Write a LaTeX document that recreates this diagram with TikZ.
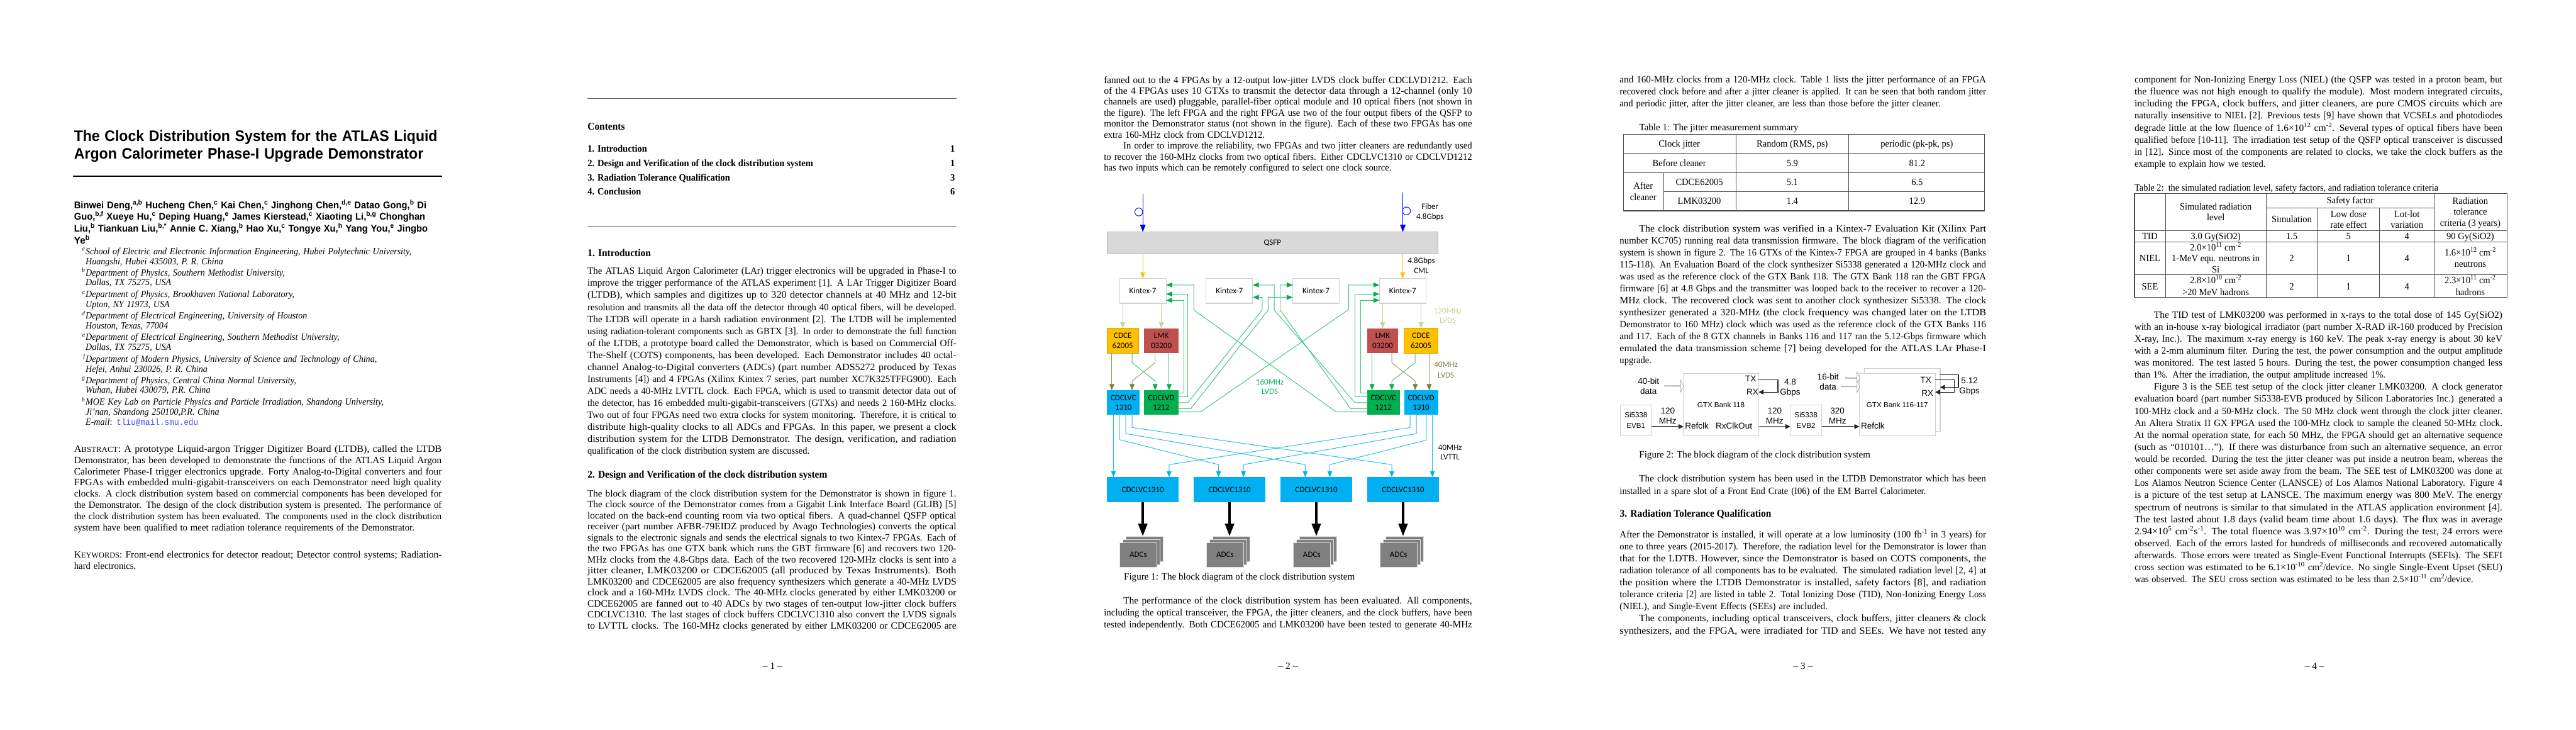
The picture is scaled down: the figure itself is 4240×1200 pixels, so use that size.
\documentclass[tikz,border=0pt]{standalone}
\usepackage{fontspec}
\usepackage{graphicx}
\setmainfont{Liberation Serif}
\newfontfamily\diagfont{Carlito}
\newfontfamily\sansfont{Liberation Sans}
\newfontfamily\mailfont{Liberation Mono}
\usetikzlibrary{arrows.meta,calc,positioning,shapes.arrows}
\definecolor{gbox}{HTML}{00B050}
\definecolor{bbox}{HTML}{00B0F0}
\definecolor{ybox}{HTML}{FFC000}
\definecolor{rbox}{HTML}{C0504D}
\definecolor{palegreen}{HTML}{C3D69B}
\definecolor{oliveline}{HTML}{76803F}
\definecolor{mailblue}{HTML}{4A4AF0}
% one printed line of a page
\newlength\indw
\newcommand{\lstrut}{\vrule height 11pt depth 4pt width 0pt}
\newcommand{\sx}[1]{\scalebox{.94}[1]{#1}}
\newcommand{\jl}[2][\hsize]{\noindent\resizebox{#1}{\height}{\lstrut#2}\par}
\newcommand{\ji}[1]{\noindent\hspace*{32pt}\setlength\indw{\hsize}\addtolength\indw{-32pt}\resizebox{\indw}{\height}{\lstrut#1}\par}
\newcommand{\nl}[1]{\noindent\sx{\lstrut#1}\par}
\newcommand{\sps}[1]{\textsuperscript{#1}}
\newcommand{\fsc}[1]{{\fontsize{12.8}{13}\selectfont #1}}
\tikzset{
  para/.style={anchor=north west,inner sep=0pt,outer sep=0pt,yshift=6.5pt,font=\fontsize{16}{#1}\selectfont},
  cell/.style={anchor=base,inner sep=0pt,yshift=-4.5pt,font=\fontsize{16}{18}\selectfont},
  sechead/.style={anchor=base west,inner sep=0pt,yshift=-4.5pt,font=\fontsize{17}{18}\selectfont\bfseries},
  rule/.style={draw=black!70,line width=1pt},
  blockb/.style={rectangle,inner sep=0pt,outer sep=0pt,align=center,minimum height=40.7pt,font=\diagfont\fontsize{13.5}{16}\selectfont},
  kbox/.style={blockb,draw=black!18,line width=1.2pt,fill=white,minimum width=76.6pt,minimum height=41pt},
  adcbox/.style={blockb,draw=black!12,fill=black!50,minimum width=61.6pt,minimum height=41pt},
  lbl/.style={inner sep=0pt,anchor=base,yshift=-4.5pt,font=\diagfont\fontsize{13.5}{16}\selectfont},
  hlbl/.style={inner sep=0pt,anchor=base,yshift=-4.5pt,font=\sansfont\fontsize{14}{16}\selectfont},
  wbox/.style={rectangle,draw=black!18,line width=1.2pt,fill=white,inner sep=0pt,outer sep=0pt,align=center,font=\sansfont\fontsize{12}{17}\selectfont},
  hollow/.style={single arrow,draw=black!35,fill=white,inner sep=0pt,outer sep=0pt,minimum height=31pt,minimum width=20pt,single arrow head extend=5pt,single arrow tip angle=130,line width=.7pt},
  gline/.style={draw=gbox!75!white,line width=1pt,-{Triangle[length=10pt,width=8pt,fill=gbox,color=gbox]}},
  bline/.style={draw=bbox!85!white,line width=1pt,-{Triangle[length=10pt,width=8pt,fill=bbox,color=bbox]}},
  oline/.style={draw=oliveline!80!white,line width=1pt,-{Triangle[length=10pt,width=8pt,fill=oliveline,color=oliveline]}},
  pline/.style={draw=palegreen,line width=1.2pt,-{Triangle[length=10pt,width=8pt]}},
  yline/.style={draw=ybox,line width=1.2pt,-{Triangle[length=10pt,width=8pt]}},
  fline/.style={draw=blue,line width=1.2pt,-{Triangle[length=12pt,width=9pt]}},
  bigline/.style={draw=black,line width=4.5pt,-{Triangle[length=21pt,width=14.5pt]}},
  blk/.style={draw=black!85,line width=1.2pt,-{Triangle[length=8pt,width=8pt]}},
}
\begin{document}
\begin{tikzpicture}[x=1pt,y=-1pt]
  \fill[white] (0,0) rectangle (4240,1200);
  \useasboundingbox (0,0) rectangle (4240,1200);

  % page 1, title page
  \node[para=28.5,text width=606pt,font=\sansfont\bfseries\fontsize{25}{28.5}\selectfont] (title) at (122,221) {%
    \jl[598pt]{The Clock Distribution System for the ATLAS Liquid}
    \jl[575pt]{Argon Calorimeter Phase-I Upgrade Demonstrator}};
  \draw[line width=2.4pt] (120,289.6) -- (728,289.6);
  \node[para=17.9,text width=606pt,font=\sansfont\bfseries\fontsize{16}{17.9}\selectfont] (authors) at (122,335) {%
    \jl[580pt]{Binwei Deng,\sps{a,b} Hucheng Chen,\sps{c} Kai Chen,\sps{c} Jinghong Chen,\sps{d,e} Datao Gong,\sps{b} Di}
    \jl[578pt]{Guo,\sps{b,f} Xueye Hu,\sps{c} Deping Huang,\sps{e} James Kierstead,\sps{c} Xiaoting Li,\sps{b,g} Chonghan}
    \jl[582pt]{Liu,\sps{b} Tiankuan Liu,\sps{b,*} Annie C. Xiang,\sps{b} Hao Xu,\sps{c} Tongye Xu,\sps{h} Yang You,\sps{e} Jingbo}
    \jl[26pt]{Ye\sps{b}}};
  \foreach \nm/\y/\sy/\la/\lb in {%
    a/414/a/{School of Electric and Electronic Information Engineering, Hubei Polytechnic University,}/{Huangshi, Hubei 435003, P. R. China},
    b/449/b/{Department of Physics, Southern Methodist University,}/{Dallas, TX 75275, USA},
    c/485/c/{Department of Physics, Brookhaven National Laboratory,}/{Upton, NY 11973, USA},
    d/520/d/{Department of Electrical Engineering, University of Houston}/{Houston, Texas, 77004},
    e/555/e/{Department of Electrical Engineering, Southern Methodist University,}/{Dallas, TX 75275, USA},
    f/591/f/{Department of Modern Physics, University of Science and Technology of China,}/{Hefei, Anhui 230026, P. R. China},
    g/626/g/{Department of Physics, Central China Normal University,}/{Wuhan, Hubei 430079, P.R. China},
    h/662/h/{MOE Key Lab on Particle Physics and Particle Irradiation, Shandong University,}/{Ji'nan, Shandong 250100,P.R. China}} {
    \node[para=16.4,text width=560pt,font=\itshape\fontsize{15.5}{16.4}\selectfont] (aff\nm) at (141,\y) {\nl{\la}\nl{\lb}};
    \node[anchor=base east,inner sep=0pt,font=\itshape\fontsize{10}{12}\selectfont] (mark\nm) at (140,\y-1) {\sy};
  }
  \node[para=16,text width=560pt,font=\fontsize{15.5}{16}\selectfont] (mail) at (141,695) {%
    \nl{\textit{E-mail}: {\mailfont\color{mailblue}\fontsize{14}{16}\selectfont tliu@mail.smu.edu}}};
  \node[para=18.5,text width=605pt] (abstract) at (122,739) {%
    \jl{A\fsc{BSTRACT}: A prototype Liquid-argon Trigger Digitizer Board (LTDB), called the LTDB}
    \jl{Demonstrator, has been developed to demonstrate the functions of the ATLAS Liquid Argon}
    \jl{Calorimeter Phase-I trigger electronics upgrade. Forty Analog-to-Digital converters and four}
    \jl{FPGAs with embedded multi-gigabit-transceivers on each Demonstrator need high quality}
    \jl{clocks. A clock distribution system based on commercial components has been developed for}
    \jl{the Demonstrator. The design of the clock distribution system is presented. The performance of}
    \jl{the clock distribution system has been evaluated. The components used in the clock distribution}
    \jl[560pt]{system have been qualified to meet radiation tolerance requirements of the Demonstrator.}};
  \node[para=18.9,text width=605pt] (keywords) at (122,912.5) {%
    \jl{K\fsc{EYWORDS}: Front-end electronics for detector readout; Detector control systems; Radiation-}
    \jl[102pt]{hard electronics.}};

  % contents and first sections
  \draw[draw=black!60,line width=1pt] (967,162) -- (1574,162);
  \draw[draw=black!60,line width=1.5pt] (967,372) -- (1574,372);
  \node[sechead] (conhead) at (967,209) {\sx{Contents}};
  \foreach \nm/\y/\txt/\pg in {a/245/{1. Introduction}/1,b/269/{2. Design and Verification of the clock distribution system}/1,c/292.7/{3. Radiation Tolerance Qualification}/3,d/316/{4. Conclusion}/6} {
    \node[sechead,font=\fontsize{16}{18}\selectfont\bfseries] (toc\nm) at (967,\y) {\sx{\txt}};
    \node[sechead,anchor=base east,font=\fontsize{16}{18}\selectfont\bfseries] (pg\nm) at (1572,\y) {\sx{\pg}};
  }
  \node[sechead] (secone) at (967,417) {\sx{1. Introduction}};
  \node[para=19.75,text width=607pt] (intro) at (967,446.5) {%
    \jl{The ATLAS Liquid Argon Calorimeter (LAr) trigger electronics will be upgraded in Phase-I to}
    \jl{improve the trigger performance of the ATLAS experiment [1]. A LAr Trigger Digitizer Board}
    \jl{(LTDB), which samples and digitizes up to 320 detector channels at 40 MHz and 12-bit}
    \jl{resolution and transmits all the data off the detector through 40 optical fibers, will be developed.}
    \jl{The LTDB will operate in a harsh radiation environment [2]. The LTDB will be implemented}
    \jl{using radiation-tolerant components such as GBTX [3]. In order to demonstrate the full function}
    \jl{of the LTDB, a prototype board called the Demonstrator, which is based on Commercial Off-}
    \jl{The-Shelf (COTS) components, has been developed. Each Demonstrator includes 40 octal-}
    \jl{channel Analog-to-Digital converters (ADCs) (part number ADS5272 produced by Texas}
    \jl{Instruments [4]) and 4 FPGAs (Xilinx Kintex 7 series, part number XC7K325TFFG900). Each}
    \jl{ADC needs a 40-MHz LVTTL clock. Each FPGA, which is used to transmit detector data out of}
    \jl{the detector, has 16 embedded multi-gigabit-transceivers (GTXs) and needs 2 160-MHz clocks.}
    \jl{Two out of four FPGAs need two extra clocks for system monitoring. Therefore, it is critical to}
    \jl{distribute high-quality clocks to all ADCs and FPGAs. In this paper, we present a clock}
    \jl{distribution system for the LTDB Demonstrator. The design, verification, and radiation}
    \nl{qualification of the clock distribution system are discussed.}};
  \node[sechead] (sectwo) at (967,782) {\sx{2. Design and Verification of the clock distribution system}};
  \node[para=18.15,text width=607pt] (design) at (967,812) {%
    \jl{The block diagram of the clock distribution system for the Demonstrator is shown in figure 1.}
    \jl{The clock source of the Demonstrator comes from a Gigabit Link Interface Board (GLIB) [5]}
    \jl{located on the back-end counting room via two optical fibers. A quad-channel QSFP optical}
    \jl{receiver (part number AFBR-79EIDZ produced by Avago Technologies) converts the optical}
    \jl{signals to the electronic signals and sends the electrical signals to two Kintex-7 FPGAs. Each of}
    \jl{the two FPGAs has one GTX bank which runs the GBT firmware [6] and recovers two 120-}
    \jl{MHz clocks from the 4.8-Gbps data. Each of the two recovered 120-MHz clocks is sent into a}
    \jl{jitter cleaner, LMK03200 or CDCE62005 (all produced by Texas Instruments). Both}
    \jl{LMK03200 and CDCE62005 are also frequency synthesizers which generate a 40-MHz LVDS}
    \jl{clock and a 160-MHz LVDS clock. The 40-MHz clocks generated by either LMK03200 or}
    \jl{CDCE62005 are fanned out to 40 ADCs by two stages of ten-output low-jitter clock buffers}
    \jl{CDCLVC1310. The last stages of clock buffers CDCLVC1310 also convert the LVDS signals}
    \jl{to LVTTL clocks. The 160-MHz clocks generated by either LMK03200 or CDCE62005 are}};
  \node[cell] (pnum1) at (1271.6,1096.7) {-- 1 --};

  % page 2, text around figure 1
  \node[para=18.05,text width=606pt] (fanout) at (1817,132) {%
    \jl{fanned out to the 4 FPGAs by a 12-output low-jitter LVDS clock buffer CDCLVD1212. Each}
    \jl{of the 4 FPGAs uses 10 GTXs to transmit the detector data through a 12-channel (only 10}
    \jl{channels are used) pluggable, parallel-fiber optical module and 10 optical fibers (not shown in}
    \jl{the figure). The left FPGA and the right FPGA use two of the four output fibers of the QSFP to}
    \jl{monitor the Demonstrator status (not shown in the figure). Each of these two FPGAs has one}
    \nl{extra 160-MHz clock from CDCLVD1212.}
    \ji{In order to improve the reliability, two FPGAs and two jitter cleaners are redundantly used}
    \jl{to recover the 160-MHz clocks from two optical fibers. Either CDCLVC1310 or CDCLVD1212}
    \nl{has two inputs which can be remotely configured to select one clock source.}};

  % figure 1
  \coordinate (fibl) at (1881,319);
  \coordinate (fibr) at (2309,317);
  \coordinate (ringl) at (1874.3,348.7);
  \coordinate (ringr) at (2315,347);
  \node[blockb,draw=black!30,line width=1pt,fill=black!15,minimum width=545pt,minimum height=35.3pt] (qsfp) at (2094.5,399.3) {QSFP};
  \node[kbox] (kin1) at (1881,478.5) {Kintex-7};
  \node[kbox,right=66pt of kin1] (kin2) {Kintex-7};
  \node[kbox,right=66pt of kin2] (kin3) {Kintex-7};
  \node[kbox,right=66pt of kin3] (kin4) {Kintex-7};
  \node[blockb,draw=ybox!85!black,fill=ybox,minimum width=51.4pt] (cdcel) at (1848,560.3) {CDCE\\62005};
  \node[blockb,fill=rbox,minimum width=56.4pt,right=9.6pt of cdcel] (lmkl) {LMK\\03200};
  \node[blockb,fill=rbox,minimum width=51.6pt] (lmkr) at (2275.8,560.3) {LMK\\03200};
  \node[blockb,draw=ybox!85!black,fill=ybox,minimum width=56pt] (cdcer) at (2339,560.3) {CDCE\\62005};
  \node[blockb,fill=bbox,minimum width=53.7pt] (bbufl) at (1849.15,662.3) {CDCLVC\\1310};
  \node[blockb,fill=gbox,minimum width=56.4pt] (gbufl) at (1911.5,662.3) {CDCLVD\\1212};
  \node[blockb,fill=gbox,minimum width=54pt] (gbufr) at (2277,662.3) {CDCLVC\\1212};
  \node[blockb,fill=bbox,minimum width=56pt] (bbufr) at (2339,662.3) {CDCLVD\\1310};
  \node[blockb,fill=bbox,minimum width=117.4pt] (buf1) at (1881,805.3) {CDCLVC1310};
  \node[blockb,fill=bbox,minimum width=117.4pt,right=25.4pt of buf1] (buf2) {CDCLVC1310};
  \node[blockb,fill=bbox,minimum width=117.4pt,right=25.4pt of buf2] (buf3) {CDCLVC1310};
  \node[blockb,fill=bbox,minimum width=117.4pt,right=25.4pt of buf3] (buf4) {CDCLVC1310};
  \foreach \i in {1,2,3,4} {
    \node[adcbox] (adc\i c) at ($(buf\i.south)+(2.5,77.1)$) {};
    \node[adcbox] (adc\i b) at ($(adc\i c)+(-5,5)$) {};
    \node[adcbox] (adc\i a) at ($(adc\i c)+(-10,10)$) {ADCs};
    \draw[bigline] (buf\i.south) -- (buf\i.south |- adc\i c.north);
  }
  \node[lbl] (fiberlbl) at (2353.7,340) {Fiber};
  \node[lbl] (ratelbl) at (2353.7,356) {4.8Gbps};
  \node[lbl] (cmlrate) at (2339.5,429) {4.8Gbps};
  \node[lbl] (cmllbl) at (2339.5,445.7) {CML};
  \node[lbl,text=palegreen] (pfreq) at (2383,511) {120MHz};
  \node[lbl,text=palegreen] (plvds) at (2383,527) {LVDS};
  \node[lbl,text=oliveline] (ofreq) at (2380,600) {40MHz};
  \node[lbl,text=oliveline] (olvds) at (2380,616.7) {LVDS};
  \node[lbl,text=gbox] (gfreq) at (2090,628.3) {160MHz};
  \node[lbl,text=gbox] (glvds) at (2090,644.3) {LVDS};
  \node[lbl] (bfreq) at (2386.8,735.7) {40MHz};
  \node[lbl] (blvttl) at (2386.8,751.7) {LVTTL};

  \draw[fline] (fibl) -- (fibl |- qsfp.north);
  \draw[fline] (fibr) -- (fibr |- qsfp.north);
  \draw[draw=blue,line width=1pt] (ringl) circle (6.5pt);
  \draw[draw=blue,line width=1pt] (ringr) circle (6.5pt);
  \draw[yline] (qsfp.south -| kin1.north) -- (kin1.north);
  \draw[yline] (qsfp.south -| kin4.north) -- (kin4.north);
  \draw[pline] (kin1.south -| cdcel.north) -- (cdcel.north);
  \draw[pline] (kin1.south -| lmkl.north) -- (lmkl.north);
  \draw[pline] (kin4.south -| lmkr.north) -- (lmkr.north);
  \draw[pline] (kin4.south -| cdcer.north) -- (cdcer.north);

  \draw[oline] ([xshift=-18pt]cdcel.south) -- ([xshift=-19.15pt]bbufl.north);
  \draw[gline] ([xshift=15.3pt]cdcel.south) -- ++(0,16) -- ++(38,30) -- ([xshift=-10.2pt]gbufl.north);
  \draw[oline] ([xshift=-10.2pt]lmkl.south) -- ++(0,16) -- ++(-38,30) -- ([xshift=14.15pt]bbufl.north);
  \draw[gline] ([xshift=12.8pt]lmkl.south) -- ([xshift=12.8pt]gbufl.north);
  \draw[gline] ([xshift=-17.5pt]lmkr.south) -- ([xshift=-18.7pt]gbufr.north);
  \draw[oline] ([xshift=15pt]lmkr.south) -- ++(0,16) -- ++(38.5,30) -- ([xshift=-9.7pt]bbufr.north);
  \draw[gline] ([xshift=-9.7pt]cdcer.south) -- ++(0,16) -- ++(-38.5,30) -- ([xshift=13.8pt]gbufr.north);
  \draw[oline] ([xshift=13.3pt]cdcer.south) -- ([xshift=13.3pt]bbufr.north);

  \draw[gline] ([yshift=15.6pt]gbufl.east) -- ++(8.6,0) |- ([yshift=-15.5pt]kin1.east);
  \draw[gline] ([yshift=10pt]gbufl.east) -- ++(15.3,0) |- ([yshift=-5.2pt]kin1.east);
  \draw[gline] (gbufl.east) -- ++(15.3,0) -- (2077.3,510) |- ([yshift=-10.5pt]kin2.east);
  \draw[gline] ([yshift=-10pt]gbufl.east) -- ++(20.3,0) -- (2087.3,510) |- ([yshift=-10.5pt]kin3.west);
  \draw[gline] ([yshift=-15.4pt]gbufl.east) -- ++(36,0) -- (2219.8,509) |- ([yshift=9.8pt]kin4.west);
  \draw[gline] ([yshift=15.6pt]gbufr.west) -- ++(-10.6,0) |- ([yshift=-15.5pt]kin4.west);
  \draw[gline] ([yshift=10pt]gbufr.west) -- ++(-20,0) |- ([yshift=-5.2pt]kin4.west);
  \draw[gline] (gbufr.west) -- ++(-20,0) -- (2097.3,510) |- ([yshift=9.8pt]kin2.east);
  \draw[gline] ([yshift=-10pt]gbufr.west) -- ++(-27,0) -- (2107.3,510) |- ([yshift=9.8pt]kin3.west);
  \draw[gline] ([yshift=-15.4pt]gbufr.west) -- ++(-50.5,0) -- (1965,510) |- ([yshift=9.8pt]kin1.east);

  \draw[bline] ([xshift=-16.45pt]bbufl.south) -- ([xshift=-48.3pt]buf1.north);
  \foreach \sx/\dy/\tx/\tn in {-6.45/40.6/-18.1/2,3.85/30.6/-18.3/3,14.15/20.6/-18.6/4}
    \draw[bline] ([xshift=\sx pt]bbufl.south) -- ++(0,\dy) -- ([xshift=\tx pt,yshift=20.7pt]buf\tn.north) -- ([xshift=\tx pt]buf\tn.north);
  \foreach \sx/\dy/\tx/\tn in {-18/20.6/43.3/1,-7.7/30.6/22.9/2,8.6/41.3/22.2/3}
    \draw[bline] ([xshift=\sx pt]bbufr.south) -- ++(0,\dy) -- ([xshift=\tx pt,yshift=20.7pt]buf\tn.north) -- ([xshift=\tx pt]buf\tn.north);
  \draw[bline] ([xshift=18.7pt]bbufr.south) -- ([xshift=48.3pt]buf4.north);

  \node[cell] (capone) at (2040,949) {\resizebox{380pt}{\height}{Figure 1: The block diagram of the clock distribution system}};
  \node[para=19.9,text width=606pt] (perf) at (1817,988.5) {%
    \ji{The performance of the clock distribution system has been evaluated. All components,}
    \jl{including the optical transceiver, the FPGA, the jitter cleaners, and the clock buffers, have been}
    \jl{tested independently. Both CDCE62005 and LMK03200 have been tested to generate 40-MHz}};
  \node[cell] (pnum2) at (2120,1096.7) {-- 2 --};

  % page 3
  \node[para=19.9,text width=603pt] (jitter) at (2666,131) {%
    \jl{and 160-MHz clocks from a 120-MHz clock. Table 1 lists the jitter performance of an FPGA}
    \jl{recovered clock before and after a jitter cleaner is applied. It can be seen that both random jitter}
    \jl[528pt]{and periodic jitter, after the jitter cleaner, are less than those before the jitter cleaner.}};
  \node[cell,anchor=base west] (capt1) at (2698,210.7) {\resizebox{262pt}{\height}{Table 1: The jitter measurement summary}};
  \draw[rule,line width=1.3pt] (2672,220.7) rectangle (3266.7,346.7);
  \draw[rule] (2672,252.3) -- (3266.7,252.3) (2672,283.7) -- (3266.7,283.7) (2738.4,315) -- (3266.7,315);
  \draw[rule] (2857.4,220.7) -- (2857.4,346.7) (3043.3,220.7) -- (3043.3,346.7) (2738.4,283.7) -- (2738.4,346.7);
  \foreach \nm/\x/\y/\txt in {%
    a/2764/237/{Clock jitter},b/2950/237/{Random (RMS, ps)},d/2764/269/{Before cleaner},e/2950/269/5.9,f/3155.5/269/81.2,
    g/2704.6/307/After,h/2704.6/325/cleaner,i/2797/300/CDCE62005,j/2950/300/5.1,k/3155.5/300/6.5,
    l/2797/331.7/LMK03200,m/2950/331.7/1.4,n/3155.5/331.7/12.9}
    \node[cell] (ta\nm) at (\x,\y) {\sx{\txt}};
  \node[cell] (tac) at (3155,237) {\resizebox{119pt}{\height}{periodic (pk-pk, ps)}};
  \node[para=19.65,text width=603pt] (verified) at (2666,377) {%
    \ji{The clock distribution system was verified in a Kintex-7 Evaluation Kit (Xilinx Part}
    \jl{number KC705) running real data transmission firmware. The block diagram of the verification}
    \jl{system is shown in figure 2. The 16 GTXs of the Kintex-7 FPGA are grouped in 4 banks (Banks}
    \jl{115-118). An Evaluation Board of the clock synthesizer Si5338 generated a 120-MHz clock and}
    \jl{was used as the reference clock of the GTX Bank 118. The GTX Bank 118 ran the GBT FPGA}
    \jl{firmware [6] at 4.8 Gbps and the transmitter was looped back to the receiver to recover a 120-}
    \jl{MHz clock. The recovered clock was sent to another clock synthesizer Si5338. The clock}
    \jl{synthesizer generated a 320-MHz (the clock frequency was changed later on the LTDB}
    \jl{Demonstrator to 160 MHz) clock which was used as the reference clock of the GTX Banks 116}
    \jl{and 117. Each of the 8 GTX channels in Banks 116 and 117 ran the 5.12-Gbps firmware which}
    \jl{emulated the data transmission scheme [7] being developed for the ATLAS LAr Phase-I}
    \nl{upgrade.}};

  % figure 2
  \node[wbox,minimum width=123.8pt,minimum height=102.7pt] (bank118) at (2832.7,665.65) {GTX Bank 118};
  \node[wbox,minimum width=52.1pt,minimum height=51.3pt] (evb1) at (2692.75,691.35) {Si5338\\EVB1};
  \node[wbox,minimum width=52.1pt,minimum height=51.3pt] (evb2) at (2972.65,691.35) {Si5338\\EVB2};
  \node[wbox,minimum width=125.1pt,minimum height=103.3pt] (bankb) at (3130.85,657.65) {};
  \node[wbox,minimum width=125.1pt,minimum height=102.7pt] (bank116) at (3122.75,665.65) {GTX Bank 116-117};
  \node[hollow] (dataa) at (2755.2,635) {};
  \node[hollow,minimum height=24pt] (datab) at (3049,621.7) {};
  \node[hollow] (datac) at (3045.5,635.7) {};
  \foreach \nm/\x/\y/\txt in {%
    a/2713.4/627.3/40-bit,b/2713.4/644/data,c/2881.7/623.3/TX,d/2884.4/644.7/RX,e/2793/701.3/Refclk,f/2854/701.3/RxClkOut,
    g/2946.6/628.7/4.8,h/2946.6/645.3/Gbps,i/2745/676.3/120,j/2745/692.7/MHz,k/2921/676.3/120,l/2921/692.7/MHz,
    m/3024.4/676.3/320,n/3024.4/692.7/MHz,o/3008.8/619.7/16-bit,p/3008.8/636.3/data,q/3169.8/625.3/TX,r/3172.5/646.7/RX,
    s/3082.5/701.3/Refclk,t/3241.7/626.3/5.12,u/3241.7/643/Gbps}
    \node[hlbl] (fg\nm) at (\x,\y) {\txt};
  \draw[blk] ([yshift=41.35pt]bank118.east) -- ++(31.7,0) |- ([yshift=20.65pt]bank118.east);
  \draw[blk] ([yshift=41.35pt]bank116.east) -- ++(31.2,0) |- ([yshift=20.65pt]bank116.east);
  \draw[blk] ([yshift=41pt]bankb.east) -- ++(30,0) |- ([yshift=20.65pt]bankb.east);
  \draw[blk] ([yshift=-36pt]bank118.east) -- ([yshift=-10.35pt]evb2.west);
  \draw[blk] ([yshift=-10.35pt]evb1.east) -- ([yshift=-10.35pt]evb1.east -| bank118.west);
  \draw[blk] ([yshift=-10.35pt]evb2.east) -- ([yshift=-10.35pt]evb2.east -| bank116.west);

  \node[cell] (captwo) at (2888.25,749) {\resizebox{380.5pt}{\height}{Figure 2: The block diagram of the clock distribution system}};
  \node[para=20.3,text width=603pt] (installed) at (2666,788.3) {%
    \ji{The clock distribution system has been used in the LTDB Demonstrator which has been}
    \jl[504pt]{installed in a spare slot of a Front End Crate (I06) of the EM Barrel Calorimeter.}};
  \node[sechead] (secthree) at (2666,846) {\sx{3. Radiation Tolerance Qualification}};
  \node[para=19.75,text width=603pt] (radlevel) at (2666,877.3) {%
    \jl{After the Demonstrator is installed, it will operate at a low luminosity (100 fb\sps{-1} in 3 years) for}
    \jl{one to three years (2015-2017). Therefore, the radiation level for the Demonstrator is lower than}
    \jl{that for the LDTB. However, since the Demonstrator is based on COTS components, the}
    \jl{radiation tolerance of all components has to be evaluated. The simulated radiation level [2, 4] at}
    \jl{the position where the LTDB Demonstrator is installed, safety factors [8], and radiation}
    \jl{tolerance criteria [2] are listed in table 2. Total Ionizing Dose (TID), Non-Ionizing Energy Loss}
    \jl[342pt]{(NIEL), and Single-Event Effects (SEEs) are included.}
    \ji{The components, including optical transceivers, clock buffers, jitter cleaners \& clock}
    \jl{synthesizers, and the FPGA, were irradiated for TID and SEEs. We have not tested any}};
  \node[cell] (pnum3) at (2967.6,1096.7) {-- 3 --};

  % page 4
  \node[para=19.85,text width=605.5pt] (niel) at (3513.3,131.3) {%
    \jl{component for Non-Ionizing Energy Loss (NIEL) (the QSFP was tested in a proton beam, but}
    \jl{the fluence was not high enough to qualify the module). Most modern integrated circuits,}
    \jl{including the FPGA, clock buffers, and jitter cleaners, are pure CMOS circuits which are}
    \jl{naturally insensitive to NIEL [2]. Previous tests [9] have shown that VCSELs and photodiodes}
    \jl{degrade little at the low fluence of 1.6×10\sps{12} cm\sps{-2}. Several types of optical fibers have been}
    \jl{qualified before [10-11]. The irradiation test setup of the QSFP optical transceiver is discussed}
    \jl{in [12]. Since most of the components are related to clocks, we take the clock buffers as the}
    \jl[216pt]{example to explain how we tested.}};
  \node[cell,anchor=base west] (capt2) at (3513.3,310) {\resizebox{500pt}{\height}{Table 2:\ \ the simulated radiation level, safety factors, and radiation tolerance criteria}};
  \draw[rule,line width=1.3pt] (3513.3,318.3) rectangle (4126.3,489.3);
  \draw[rule] (3729.7,341.7) -- (4006.9,341.7) (3513.3,379) -- (4126.3,379) (3513.3,397.7) -- (4126.3,397.7) (3513.3,452.3) -- (4126.3,452.3);
  \draw[rule] (3564.5,318.3) -- (3564.5,489.3) (3729.7,318.3) -- (3729.7,489.3) (4006.9,318.3) -- (4006.9,489.3) (3814.4,341.7) -- (3814.4,489.3) (3916.7,341.7) -- (3916.7,489.3);
  \foreach \nm/\x/\y/\txt in {%
    a/3647/340.7/{Simulated radiation},b/3647/358/level,c/3868.3/330.7/{Safety factor},d/4066/331.3/Radiation,e/4066/349.3/tolerance,f/4066/367.3/{criteria (3 years)},
    g/3772/361.3/Simulation,h/3865.6/353/{Low dose},i/3865.6/370.7/{rate effect},j/3961.8/353/Lot-lot,k/3961.8/370.7/variation,
    l/3538.6/389/TID,m/3647/389/{3.0 Gy(SiO2)},n/3772/389/1.5,o/3865.6/389/5,p/3961.8/389/4,q/4066/389/{90 Gy(SiO2)},
    r/3538.6/425.7/NIEL,s/3647/407.7/{2.0×10\sps{11} cm\sps{-2}},t/3647/425.7/{1-MeV equ. neutrons in},u/3647/444/Si,v/3772/425.7/2,w/3865.6/425.7/1,x/3961.8/425.7/4,y/4066/416.7/{1.6×10\sps{12} cm\sps{-2}},z/4066/435/neutrons,
    aa/3538.6/471.7/SEE,ab/3647/462.3/{2.8×10\sps{10} cm\sps{-2}},ac/3647/481/{>20 MeV hadrons},ad/3772/471.7/2,ae/3865.6/471.7/1,af/3961.8/471.7/4,ag/4066/462.3/{2.3×10\sps{11} cm\sps{-2}},ah/4066/481/hadrons}
    \node[cell] (tb\nm) at (\x,\y) {\sx{\txt}};
  \node[para=19.8,text width=605.5pt] (tidtest) at (3513.3,518) {%
    \ji{The TID test of LMK03200 was performed in x-rays to the total dose of 145 Gy(SiO2)}
    \jl{with an in-house x-ray biological irradiator (part number X-RAD iR-160 produced by Precision}
    \jl{X-ray, Inc.). The maximum x-ray energy is 160 keV. The peak x-ray energy is about 30 keV}
    \jl{with a 2-mm aluminum filter. During the test, the power consumption and the output amplitude}
    \jl{was monitored. The test lasted 5 hours. During the test, the power consumption changed less}
    \jl[413pt]{than 1\%. After the irradiation, the output amplitude increased 1\%.}
    \ji{Figure 3 is the SEE test setup of the clock jitter cleaner LMK03200. A clock generator}
    \jl{evaluation board (part number Si5338-EVB produced by Silicon Laboratories Inc.) generated a}
    \jl{100-MHz clock and a 50-MHz clock. The 50 MHz clock went through the clock jitter cleaner.}
    \jl{An Altera Stratix II GX FPGA used the 100-MHz clock to sample the cleaned 50-MHz clock.}
    \jl{At the normal operation state, for each 50 MHz, the FPGA should get an alternative sequence}
    \jl{(such as “010101…”). If there was disturbance from such an alternative sequence, an error}
    \jl{would be recorded. During the test the jitter cleaner was put inside a neutron beam, whereas the}
    \jl{other components were set aside away from the beam. The SEE test of LMK03200 was done at}
    \jl{Los Alamos Neutron Science Center (LANSCE) of Los Alamos National Laboratory. Figure 4}
    \jl{is a picture of the test setup at LANSCE. The maximum energy was 800 MeV. The energy}
    \jl{spectrum of neutrons is similar to that simulated in the ATLAS application environment [4].}
    \jl{The test lasted about 1.8 days (valid beam time about 1.6 days). The flux was in average}
    \jl{2.94×10\sps{5} cm\sps{-2}s\sps{-1}. The total fluence was 3.97×10\sps{10} cm\sps{-2}. During the test, 24 errors were}
    \jl{observed. Each of the errors lasted for hundreds of milliseconds and recovered automatically}
    \jl{afterwards. Those errors were treated as Single-Event Functional Interrupts (SEFIs). The SEFI}
    \jl{cross section was estimated to be 6.1×10\sps{-10} cm\sps{2}/device. No single Single-Event Upset (SEU)}
    \jl[557.7pt]{was observed. The SEU cross section was estimated to be less than 2.5×10\sps{-11} cm\sps{2}/device.}};
  \node[cell] (pnum4) at (3809.6,1096.7) {-- 4 --};
\end{tikzpicture}
\end{document}
